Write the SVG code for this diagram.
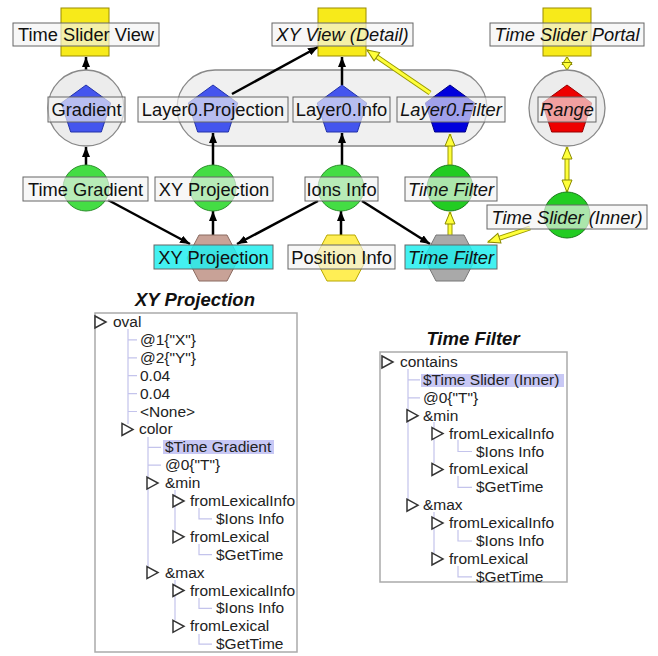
<svg xmlns="http://www.w3.org/2000/svg" width="658" height="656" viewBox="0 0 658 656">
<style>
.lbl{fill:#f3f3f3;fill-opacity:0.66;stroke:#666;stroke-width:1}
.cy{fill:#22eeee;fill-opacity:0.85;stroke:#666;stroke-width:1}
.t{font-family:"Liberation Sans",Arial,sans-serif;font-size:18.3px;fill:#111;text-anchor:middle}
.i{font-style:italic}
.tr{font-family:"Liberation Sans",Arial,sans-serif;font-size:15.5px;fill:#222}
.ttl{font-family:"Liberation Sans",Arial,sans-serif;font-size:18.5px;font-weight:bold;font-style:italic;fill:#111;text-anchor:middle}
.sq{fill:#f7ea1a;stroke:#9a8c00;stroke-width:1}
.gc{fill:#ececec;stroke:#888;stroke-width:1.3}
.pb{fill:#4455ee;stroke:#2233aa;stroke-width:1}
.grn{fill:#44dd44;stroke:#2b8f2b;stroke-width:1}
.grd{fill:#22cc22;stroke:#1a7a1a;stroke-width:1}
.bk{stroke:#000;stroke-width:2.5;fill:none;marker-end:url(#ab)}
.yo{stroke:#9a9a00;stroke-width:5;fill:none}
.yl{stroke:#ffff3a;stroke-width:3;fill:none}
.tl{stroke:#c4c4ec;stroke-width:1.2;fill:none}
.tri{fill:#fff;stroke:#333;stroke-width:1.5}
.hl{fill:#c8c8f5}
.pan{fill:#fff;stroke:#aaa;stroke-width:1.5}
</style>
<defs>
<marker id="ab" viewBox="0 0 10 8" refX="10" refY="4" markerWidth="10" markerHeight="8" orient="auto" markerUnits="userSpaceOnUse"><path d="M0,0 L10,4 L0,8 z" fill="#000"/></marker>
<marker id="ay" viewBox="0 0 14 12" refX="13" refY="6" markerWidth="14" markerHeight="12" orient="auto-start-reverse" markerUnits="userSpaceOnUse"><path d="M1,1 L13,6 L1,11 z" fill="#ffff3a" stroke="#8a8a00" stroke-width="1"/></marker>
<marker id="ays" viewBox="0 0 9 12" refX="8.5" refY="6" markerWidth="9" markerHeight="12" orient="auto-start-reverse" markerUnits="userSpaceOnUse"><path d="M1,1 L8.5,6 L1,11 z" fill="#ffff3a" stroke="#8a8a00" stroke-width="1"/></marker>
<polygon id="pent" points="0,-26 24.7,-8 15.3,21 -15.3,21 -24.7,-8"/>
<polygon id="hex" points="-14,-23 14,-23 26,0 14,23 -14,23 -26,0"/>
</defs>
<rect width="658" height="656" fill="#fff"/>

<g id="layer0-group">
<rect x="177" y="70" width="310" height="76" rx="38" ry="38" fill="#f0f0f0" stroke="#888" stroke-width="1.3"/>
</g>

<g id="connectors">
<line class="bk" x1="86" y1="70" x2="86" y2="57"/>
<line class="bk" x1="86" y1="165" x2="86" y2="147"/>
<line class="bk" x1="232" y1="94" x2="318" y2="47"/>
<line class="bk" x1="342" y1="85" x2="342" y2="57"/>
<line class="bk" x1="213" y1="165" x2="213" y2="133"/>
<line class="bk" x1="342" y1="165" x2="342" y2="133"/>
<line class="bk" x1="108" y1="200" x2="190" y2="244"/>
<line class="bk" x1="213" y1="235" x2="213" y2="211"/>
<line class="bk" x1="318" y1="201" x2="237" y2="244"/>
<line class="bk" x1="362" y1="201" x2="430" y2="244"/>
<line class="bk" x1="341" y1="235" x2="341" y2="211"/>
<line class="yo" x1="430" y1="93" x2="375" y2="55.5"/>
<line class="yl" x1="430" y1="93" x2="367" y2="50" marker-end="url(#ay)"/>
<line class="yo" x1="450" y1="165" x2="450" y2="144"/>
<line class="yl" x1="450" y1="165" x2="450" y2="134" marker-end="url(#ay)"/>
<line class="yl" x1="567" y1="57" x2="567" y2="70" marker-start="url(#ays)" marker-end="url(#ays)"/>
<line class="yo" x1="567" y1="157" x2="567" y2="181"/>
<line class="yl" x1="567" y1="147" x2="567" y2="192" marker-start="url(#ay)" marker-end="url(#ay)"/>
<line class="yo" x1="450" y1="235" x2="450" y2="222"/>
<line class="yl" x1="450" y1="235" x2="450" y2="212" marker-end="url(#ay)"/>
<line class="yo" x1="530" y1="228" x2="497.5" y2="238.8"/>
<line class="yl" x1="530" y1="228" x2="488" y2="242" marker-end="url(#ay)"/>
</g>

<g id="time-slider-view">
<rect class="sq" x="61" y="8" width="48" height="48"/>
<rect class="lbl" x="13" y="23" width="146" height="23"/>
<text class="t" x="86" y="41">Time Slider View</text>
</g>
<g id="xy-view-detail">
<rect class="sq" x="318" y="8" width="48" height="48"/>
<rect class="lbl" x="272" y="23" width="141" height="23"/>
<text class="t i" x="342.5" y="41">XY View (Detail)</text>
</g>
<g id="time-slider-portal">
<rect class="sq" x="543" y="8" width="48" height="48"/>
<rect class="lbl" x="490" y="23" width="154" height="23"/>
<text class="t i" x="567" y="41">Time Slider Portal</text>
</g>

<g id="gradient">
<circle class="gc" cx="86" cy="108" r="38"/>
<use href="#pent" x="86" y="111" class="pb"/>
<rect class="lbl" x="48" y="97" width="77" height="25"/>
<text class="t" x="86.5" y="116">Gradient</text>
</g>
<g id="layer0-projection">
<use href="#pent" x="213" y="111" class="pb"/>
<rect class="lbl" x="138" y="97" width="150" height="25"/>
<text class="t" x="213" y="116">Layer0.Projection</text>
</g>
<g id="layer0-info">
<use href="#pent" x="342" y="111" class="pb"/>
<rect class="lbl" x="293" y="97" width="97" height="25"/>
<text class="t" x="341.5" y="116">Layer0.Info</text>
</g>
<g id="layer0-filter">
<use href="#pent" x="450" y="111" fill="#0000dd" stroke="#000088" stroke-width="1"/>
<rect class="lbl" x="397" y="97" width="108" height="25"/>
<text class="t i" x="451" y="116">Layer0.Filter</text>
</g>
<g id="range">
<circle class="gc" cx="567" cy="108" r="38"/>
<use href="#pent" x="567" y="111" fill="#ee0000" stroke="#990000" stroke-width="1"/>
<rect class="lbl" x="538" y="97" width="58" height="25"/>
<text class="t i" x="567" y="116">Range</text>
</g>

<g id="time-gradient">
<circle class="grn" cx="86" cy="188" r="23"/>
<rect class="lbl" x="23" y="177" width="125" height="24"/>
<text class="t" x="85.5" y="195.5">Time Gradient</text>
</g>
<g id="xy-projection-value">
<circle class="grn" cx="213" cy="188" r="23"/>
<rect class="lbl" x="155" y="177" width="118" height="24"/>
<text class="t" x="214" y="195.5">XY Projection</text>
</g>
<g id="ions-info">
<circle class="grn" cx="341" cy="188" r="23"/>
<rect class="lbl" x="305" y="177" width="73" height="24"/>
<text class="t" x="341.5" y="195.5">Ions Info</text>
</g>
<g id="time-filter-value">
<circle class="grd" cx="450" cy="188" r="23"/>
<rect class="lbl" x="405" y="177" width="92" height="24"/>
<text class="t i" x="451" y="195.5">Time Filter</text>
</g>
<g id="time-slider-inner">
<circle class="grd" cx="567" cy="215" r="23"/>
<rect class="lbl" x="487" y="205" width="160" height="24"/>
<text class="t i" x="567" y="223.5">Time Slider (Inner)</text>
</g>

<g id="xy-projection-op">
<use href="#hex" x="213" y="258" fill="#c8a297" stroke="#8a6a60" stroke-width="1"/>
<rect class="cy" x="154" y="245" width="119" height="24"/>
<text class="t" x="213.5" y="263.5">XY Projection</text>
</g>
<g id="position-info">
<use href="#hex" x="341" y="258" fill="#ffee55" stroke="#b8a800" stroke-width="1"/>
<rect class="lbl" x="288" y="245" width="107" height="24"/>
<text class="t" x="341.5" y="263.5">Position Info</text>
</g>
<g id="time-filter-op">
<use href="#hex" x="450" y="258" fill="#a9a9a9" stroke="#777" stroke-width="1"/>
<rect class="cy" x="405" y="245" width="92" height="24"/>
<text class="t i" x="451" y="263.5">Time Filter</text>
</g>

<g id="xy-projection-panel">
<text class="ttl" x="195" y="306">XY Projection</text>
<rect class="pan" x="95" y="313" width="202" height="339"/>
<path class="tl" d="M128,329 V424 M128,339.9 H137 M128,357.8 H137 M128,375.7 H137 M128,393.6 H137 M128,411.5 H137 M148,437 V567 M148,447.3 H161 M148,465.2 H161 M175,490 V531 M175,580 V620 M199,508 V518.9 H212 M199,544 V554.7 H212 M199,598 V608.4 H212 M199,634 V644.2 H212"/>
<rect class="hl" x="163" y="440" width="111" height="14"/>
<polygon class="tri" points="95,316 106,322 95,328"/>
<polygon class="tri" points="122,423.4 133,429.4 122,435.4"/>
<polygon class="tri" points="147,477.1 158,483.1 147,489.1"/>
<polygon class="tri" points="173,495 184,501 173,507"/>
<polygon class="tri" points="173,530.8 184,536.8 173,542.8"/>
<polygon class="tri" points="147,566.6 158,572.6 147,578.6"/>
<polygon class="tri" points="173,584.5 184,590.5 173,596.5"/>
<polygon class="tri" points="173,620.3 184,626.3 173,632.3"/>
<text class="tr" x="113" y="327">oval</text>
<text class="tr" x="140" y="344.9">@1{"X"}</text>
<text class="tr" x="140" y="362.8">@2{"Y"}</text>
<text class="tr" x="140" y="380.7">0.04</text>
<text class="tr" x="140" y="398.6">0.04</text>
<text class="tr" x="140" y="416.5">&lt;None&gt;</text>
<text class="tr" x="139" y="434.4">color</text>
<text class="tr" x="165" y="452.3">$Time Gradient</text>
<text class="tr" x="165" y="470.2">@0{"T"}</text>
<text class="tr" x="165" y="488.1">&amp;min</text>
<text class="tr" x="190" y="506">fromLexicalInfo</text>
<text class="tr" x="216" y="523.9">$Ions Info</text>
<text class="tr" x="190" y="541.8">fromLexical</text>
<text class="tr" x="216" y="559.7">$GetTime</text>
<text class="tr" x="165" y="577.6">&amp;max</text>
<text class="tr" x="190" y="595.5">fromLexicalInfo</text>
<text class="tr" x="216" y="613.4">$Ions Info</text>
<text class="tr" x="190" y="631.3">fromLexical</text>
<text class="tr" x="216" y="649.2">$GetTime</text>
</g>

<g id="time-filter-panel">
<text class="ttl" x="473" y="345">Time Filter</text>
<rect class="pan" x="380" y="352" width="187" height="230"/>
<path class="tl" d="M408,369 V499 M408,379.9 H420 M408,397.8 H420 M434,422 V463 M434,512 V553 M458,440 V451.5 H472 M458,476 V487.3 H472 M458,530 V541 H472 M458,566 V576.8 H472"/>
<rect class="hl" x="421" y="374" width="143" height="13"/>
<polygon class="tri" points="382,356 393,362 382,368"/>
<polygon class="tri" points="407,409.7 418,415.7 407,421.7"/>
<polygon class="tri" points="432,427.6 443,433.6 432,439.6"/>
<polygon class="tri" points="432,463.4 443,469.4 432,475.4"/>
<polygon class="tri" points="407,499.2 418,505.2 407,511.2"/>
<polygon class="tri" points="432,517.1 443,523.1 432,529.1"/>
<polygon class="tri" points="432,552.9 443,558.9 432,564.9"/>
<text class="tr" x="400" y="367">contains</text>
<text class="tr" x="423" y="384.9">$Time Slider (Inner)</text>
<text class="tr" x="423" y="402.8">@0{"T"}</text>
<text class="tr" x="423" y="420.7">&amp;min</text>
<text class="tr" x="449" y="438.6">fromLexicalInfo</text>
<text class="tr" x="476" y="456.5">$Ions Info</text>
<text class="tr" x="449" y="474.4">fromLexical</text>
<text class="tr" x="476" y="492.3">$GetTime</text>
<text class="tr" x="423" y="510.2">&amp;max</text>
<text class="tr" x="449" y="528.1">fromLexicalInfo</text>
<text class="tr" x="476" y="546">$Ions Info</text>
<text class="tr" x="449" y="563.9">fromLexical</text>
<text class="tr" x="476" y="581.8">$GetTime</text>
</g>
</svg>
